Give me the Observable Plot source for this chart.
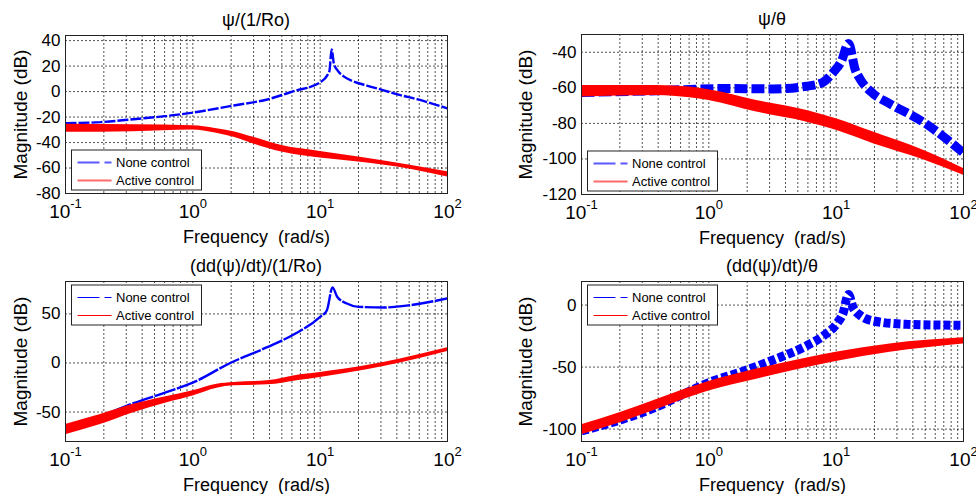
<!DOCTYPE html>
<html><head><meta charset="utf-8">
<script src="https://cdn.jsdelivr.net/npm/d3@7"></script>
<script src="https://cdn.jsdelivr.net/npm/@observablehq/plot@0.6"></script>
<style>
body{margin:0;background:#fff;}
#chart{position:relative;width:976px;height:494px;overflow:hidden;background:#fff;}
#chart svg{position:absolute;}
</style></head><body><div id="chart"></div>
<script>
// ---------------- data ----------------
const xTicks = [0.1, 1, 10, 100];
const xMinor = [0.2,0.3,0.4,0.5,0.6,0.7,0.8,0.9,1,2,3,4,5,6,7,8,9,10,20,30,40,50,60,70,80,90];
const seriesNames = ["None control", "Active control"];
const titles = ["ψ/(1/Ro)", "ψ/θ", "(dd(ψ)/dt)/(1/Ro)", "(dd(ψ)/dt)/θ"];
const xLabel = "Frequency\u00a0 (rad/s)";
const yLabel = "Magnitude (dB)";

// Panel 1: psi/(1/Ro)
const tlYTicks = [-80, -60, -40, -20, 0, 20, 40];
const tlBlueF  = [0.1, 0.188, 0.343, 0.628, 1, 2.1, 3.84, 6.2, 10, 11.8, 12.3, 12.8, 13.6, 15.3, 18.3, 23.3, 31.5, 42.6, 57.6, 77.9, 100];
const tlBlueDb = [-24.8, -24.0, -21.7, -19.1, -16.5, -10.9, -6.2, 0.3, 7.2, 15.8, 33, 22.2, 17, 11.9, 8, 4.7, 1, -2.8, -6, -9.8, -13.2];
const tlRedF   = [0.1, 0.343, 1, 1.5, 2.1, 3.0, 5.0, 10, 20, 51, 100];
const tlRedLo  = [-32, -31.5, -30.2, -32.6, -35.9, -41.1, -47.5, -52.2, -55.3, -61, -67];
const tlRedHi  = [-25.6, -26.1, -26.9, -28.9, -31.5, -35.9, -42.4, -47, -51.4, -57.9, -63];

// Panel 2: psi/theta
const trYTicks = [-120, -100, -80, -60, -40];
const trBlueF  = [0.1, 0.39, 1.3, 3.2, 5.9, 7.9, 9.5, 11.0, 12.5, 14.1, 15.4, 19.6, 26.5, 48.4, 100];
const trBlueDb = [-62.6, -61.6, -60.4, -60.6, -59.1, -56.8, -51.2, -45, -35, -49.7, -55, -63.4, -69, -79.3, -96.6];
const trRedF   = [0.1, 0.39, 0.71, 1, 2.37, 5.9, 10, 19.6, 48.4, 100];
const trRedLo  = [-65.2, -64.3, -65.6, -67.1, -73.6, -79.3, -83.9, -91.4, -100.4, -109.2];
const trRedHi  = [-58.7, -58.7, -59.6, -61.1, -67.1, -72.7, -77.4, -84.9, -95.1, -105.4];

// Panel 3: (dd(psi)/dt)/(1/Ro)
const blYTicks = [-50, 0, 50];
const blBlueF  = [0.1, 0.188, 0.343, 0.628, 1, 1.97, 3.84, 6.2, 10, 11.3, 12.5, 13.6, 16.2, 20, 31.5, 51, 100];
const blBlueDb = [-64, -54, -41, -29.5, -20, 0, 16.1, 29, 46.9, 53.8, 77, 67.5, 60.6, 57.2, 56.5, 58.9, 65.8];
const blRedF   = [0.1, 0.188, 0.343, 0.628, 1, 1.55, 2.1, 3.84, 7.0, 10, 23.3, 42.6, 100];
const blRedLo  = [-73, -62.7, -50.7, -40.4, -33.6, -25.7, -23.3, -22.3, -17.5, -14.7, -6.8, 0, 11.6];
const blRedHi  = [-62.7, -52.4, -42.1, -34.2, -28.4, -21.6, -19.9, -18.2, -12, -9.6, -2.7, 4.1, 15.4];

// Panel 4: (dd(psi)/dt)/theta
const brYTicks = [-100, -50, 0];
const brBlueF  = [0.1, 0.21, 0.39, 0.71, 1, 1.75, 3.2, 5.9, 7.9, 10.1, 11.3, 12.5, 13.5, 15.4, 19.6, 35.9, 100];
const brBlueDb = [-101.5, -92, -82, -69.3, -62.5, -54.3, -44.3, -32.6, -25, -15, -6.8, 8.5, -1.4, -8.2, -12.8, -15.5, -16.3];
const brRedF   = [0.1, 0.21, 0.39, 1, 2.37, 5.9, 10, 26.5, 100];
const brRedLo  = [-104.6, -94.3, -84.2, -69.3, -59.8, -50.3, -45.4, -38, -31.3];
const brRedHi  = [-96.5, -86.1, -76.1, -61.7, -51.6, -42.7, -38, -31.3, -26.4];

// ---------------- drawing ----------------
const FONT = "'Liberation Sans', Arial, Helvetica, sans-serif";
const panels = [
  {left:0, top:0, ml:65, mr:41, mt:35, mb:54, yDomain:[-80,44], yTicks:tlYTicks, bF:tlBlueF, bD:tlBlueDb, rF:tlRedF, rLo:tlRedLo, rHi:tlRedHi,
   bw:2.4, bd:"11,2", legendTop:false, legendLight:true, yLabOff:52, title:titles[0]},
  {left:488, top:0, ml:93, mr:13, mt:34, mb:53, yDomain:[-120,-30], yTicks:trYTicks, bF:trBlueF, bD:trBlueDb, rF:trRedF, rLo:trRedLo, rHi:trRedHi,
   bw:9, bd:"13,4", legendTop:false, legendLight:true, yLabOff:63, title:titles[1]},
  {left:0, top:247, ml:65, mr:41, mt:34, mb:53, yDomain:[-80,83], yTicks:blYTicks, bF:blBlueF, bD:blBlueDb, rF:blRedF, rLo:blRedLo, rHi:blRedHi,
   bw:2.4, bd:"22,1.5", legendTop:true, legendLight:false, yLabOff:52, title:titles[2]},
  {left:488, top:247, ml:93, mr:13, mt:34, mb:53, yDomain:[-110,19], yTicks:brYTicks, bF:brBlueF, bD:brBlueDb, rF:brRedF, rLo:brRedLo, rHi:brRedHi,
   bw:9, bd:"7,3", legendTop:true, legendLight:false, yLabOff:63, title:titles[3]}
];

const W = 488, H = 247;
const chart = document.getElementById("chart");

for (const p of panels) {
  const blue = p.bF.map((f, i) => ({f, db: p.bD[i]}));
  const red = p.rF.map((f, i) => ({f, lo: p.rLo[i], hi: p.rHi[i]}));
  const yGrid = p.yTicks.filter(v => v > p.yDomain[0] && v < p.yDomain[1]);
  const svg = Plot.plot({
    width: W, height: H,
    marginLeft: p.ml, marginRight: p.mr, marginTop: p.mt, marginBottom: p.mb,
    style: {fontFamily: FONT, fontSize: "17px", background: "transparent", overflow: "visible", color: "#000"},
    x: {type: "log", domain: [0.1, 100]},
    y: {domain: p.yDomain},
    marks: [
      Plot.ruleX(xMinor, {stroke: "#000", strokeWidth: 0.8, strokeDasharray: "2,2", strokeOpacity: 0.85}),
      Plot.ruleY(yGrid, {stroke: "#000", strokeWidth: 0.8, strokeDasharray: "2,2", strokeOpacity: 0.85}),
      Plot.line(blue, {x: "f", y: "db", stroke: "#0000ff", strokeWidth: p.bw, strokeDasharray: p.bd,
        strokeLinecap: "butt", strokeLinejoin: "miter", curve: "monotone-x", clip: true}),
      Plot.areaY(red, {x: "f", y1: "lo", y2: "hi", fill: "#ff0000", curve: "monotone-x", clip: true}),
      Plot.frame({stroke: "#222", strokeWidth: 1}),
      Plot.axisX({ticks: xTicks, tickSize: 0, tickPadding: 12, fontSize: 18,
        tickFormat: d => "10^" + String(Math.round(Math.log10(d))),
        label: xLabel, labelAnchor: "center", labelArrow: "none", labelOffset: 49}),
      Plot.axisY({ticks: p.yTicks, tickSize: 0, tickPadding: 5, fontSize: 17,
        tickFormat: d => String(d),
        label: yLabel, labelAnchor: "center", labelArrow: "none", labelOffset: p.yLabOff})
    ]
  });
  svg.style.left = p.left + "px";
  svg.style.top = p.top + "px";
  const s = d3.select(svg);

  // superscript exponents on x tick labels
  s.selectAll('g[aria-label="x-axis tick label"] text').each(function () {
    const txt = this.textContent;
    if (!txt.includes("^")) return;
    const [b, e] = txt.split("^");
    const t = d3.select(this);
    t.text(null);
    t.append("tspan").attr("font-size", 19).text(b);
    t.append("tspan").attr("dy", -10).attr("font-size", 13).text(e);
  });
  s.selectAll('g[aria-label="y-axis label"]').attr("font-size", 19);
  s.selectAll('g[aria-label="y-axis label"] text').attr("font-size", 19);

  // title
  const fx0 = p.ml, fx1 = W - p.mr, fy0 = p.mt, fy1 = H - p.mb;
  s.append("text").attr("x", (fx0 + fx1) / 2).attr("y", fy0 - 9)
    .attr("text-anchor", "middle").attr("font-family", FONT).attr("font-size", 18).attr("fill", "#000")
    .text(p.title);

  // legend
  const lx = fx0 + 6.5, ly = p.legendTop ? fy0 + 4 : fy1 - 43, lw = 130, lh = 40;
  const g = s.append("g").attr("font-family", FONT).attr("font-size", 13).attr("text-anchor", "start");
  g.append("rect").attr("x", lx).attr("y", ly).attr("width", lw).attr("height", lh)
    .attr("fill", "#fff").attr("stroke", "#222").attr("stroke-width", 1);
  const colors = p.legendLight ? ["#5a5aff", "#ff6a6a"] : ["#0000ff", "#ff0000"];
  const lwid = p.legendLight ? 2 : 1.2;
  const dashes = ["22,5", null];
  seriesNames.forEach((name, i) => {
    const yy = ly + 12.5 + i * 18;
    const ln = g.append("line").attr("x1", lx + 6).attr("x2", lx + 40).attr("y1", yy).attr("y2", yy)
      .attr("stroke", colors[i]).attr("stroke-width", lwid);
    if (dashes[i]) ln.attr("stroke-dasharray", dashes[i]);
    g.append("text").attr("x", lx + 44.5).attr("y", yy + 4.5).attr("text-anchor", "start").attr("fill", "#000").text(name);
  });

  chart.appendChild(svg);
}
</script>
</body></html>
